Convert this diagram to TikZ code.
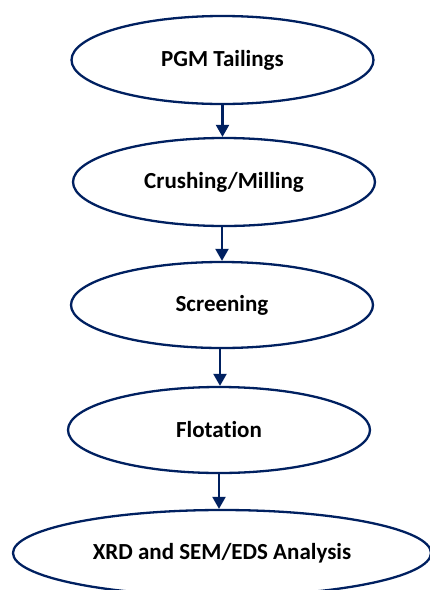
\documentclass[tikz,border=0pt]{standalone}
\usepackage{fontspec}
\setmainfont{Carlito}[Ligatures=NoCommon]
\usetikzlibrary{shapes.geometric,arrows.meta}
\definecolor{navy}{RGB}{0,32,96}

\begin{document}
\begin{tikzpicture}[x=1pt,y=-1pt,
    stage/.style={ellipse,draw=navy,line width=2.3pt,inner sep=0pt,
      minimum width=302pt,minimum height=88pt,
      font=\fontsize{23}{27}\selectfont\bfseries},
    flow/.style={-{Triangle[length=12pt,width=13pt]},draw=navy,line width=2.3pt}]
  \useasboundingbox (0,0) rectangle (430,590);

  % The five stages, top to bottom
  \node[stage] (tail)  at (222.5,60) {PGM Tailings};
  \node[stage] (crush) at (224,182)  {Crushing/Milling};
  \node[stage,minimum height=86pt] (screen) at (222,305) {Screening};
  \node[stage,minimum height=86pt] (flot)   at (219,430) {Flotation};
  \node[stage,minimum width=418pt,minimum height=86pt] (anal) at (222,553) {XRD and SEM/EDS Analysis};

  % Flow from one stage to the next
  \draw[flow] (tail.south)   -- (tail.south |- crush.north);
  \draw[flow] (crush.south)  ++(-2,0) -- (222,0 |- screen.north);
  \draw[flow] (screen.south) ++(-2,0) -- (220,0 |- flot.north);
  \draw[flow] (flot.south)   -- (flot.south |- anal.north);
\end{tikzpicture}
\end{document}
